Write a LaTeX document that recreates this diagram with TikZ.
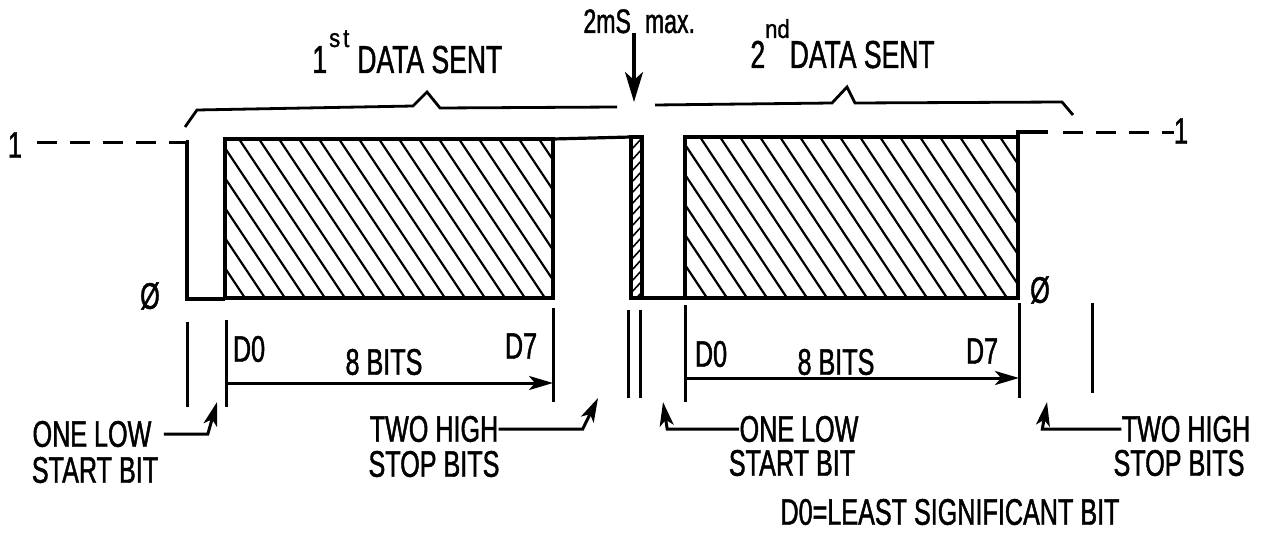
\documentclass[tikz,border=0pt]{standalone}
\usepackage{fontspec}
\newfontfamily\handfont{Liberation Sans}[FakeStretch=0.68, FakeBold=1.2]
\newfontfamily\supfont{Liberation Sans}[FakeStretch=0.85, FakeBold=1.2]
\usetikzlibrary{arrows.meta}

\begin{document}
\begin{tikzpicture}[x=0.5pt, y=-0.5pt,
    sig/.style={line width=1.6pt, line join=miter},
    hatch/.style={line width=1.1pt},
    tick/.style={line width=1.5pt},
    lvl/.style={line width=1.5pt, dash pattern=on 10pt off 6.5pt},
    lbl/.style={font=\handfont\fontsize{18.5}{21}\selectfont, inner sep=0pt},
    ptr/.style={line width=1.5pt, -{Stealth[length=12pt,width=7pt,inset=3pt]}}]
    \useasboundingbox (0,0) rectangle (1261,540);

    % Hatched data bits
    \begin{scope}
        \clip (225,139) rectangle (553,298);
        \foreach \i in {0,...,22}
            \draw[hatch] ({119+\i*20},139) -- ++(106,159);
    \end{scope}
    \begin{scope}
        \clip (685,137) rectangle (1018,298);
        \foreach \i in {0,...,22}
            \draw[hatch] ({580+\i*20},137) -- ++(107,161);
    \end{scope}
    \begin{scope}
        \clip (631,137) rectangle (642,298);
        \foreach \i in {0,...,14}
            \draw[hatch, line width=0.8pt] (631,{150+\i*11}) -- ++(11,-12);
    \end{scope}

    % Waveform
    \node[lbl] (one-l) at (15,145) {1};
    \draw[lvl] (37,142) -- (187,142);
    \draw[sig] (186,142) -- (187,142) -- (187,299) -- (225,299);
    \draw[sig] (225,139) rectangle (553,298);
    \draw[sig] (553,139) -- (631,137);
    \draw[sig] (631,137) rectangle (642,298);
    \draw[sig] (642,298) -- (685,298);
    \draw[sig] (685,137) rectangle (1018,298);
    \draw[sig] (1018,137) -- (1018,132) -- (1048,132);
    \draw[lvl] (1063,132) -- (1174,132);
    \node[lbl] (one-r) at (1181,131) {1};
    \node[lbl] (zero-l) at (150,296) {Ø};
    \node[lbl] (zero-r) at (1040,290) {Ø};

    % Braces and titles
    \draw[sig, line width=1.4pt] (185,127) -- (197,110) -- (413,106) -- (427,92) -- (440,108) -- (617,107);
    \draw[sig, line width=1.4pt] (655,105) -- (832,103) -- (847,87) -- (855,103) -- (1062,102) -- (1073,115);
    \node[lbl, font=\handfont\fontsize{19.5}{22}\selectfont, anchor=base west] (sent1) at (312,73)
        {1\hspace{1pt}\raisebox{13pt}{\supfont\fontsize{13}{15}\selectfont s\hspace{1.5pt}t}\hspace{4pt}DATA SENT};
    \node[lbl, font=\handfont\fontsize{19.5}{22}\selectfont, anchor=base west] (sent2) at (750,68)
        {2\raisebox{15pt}{\supfont\fontsize{13}{15}\selectfont nd}DATA SENT};

    % Gap between the two words
    \node[lbl, font=\handfont\fontsize{17}{19}\selectfont, anchor=base west] (gap) at (583,33) {2mS\hspace{7pt}max.};
    \coordinate (gaptip) at (634,102);
    \draw[line width=1.6pt, -{Stealth[length=15pt,width=9pt,inset=4pt]}] (gap.base -| gaptip) -- (gaptip);

    % Bit markers
    \foreach \x/\a/\b in {187/322/407, 226/320/407, 553/308/402, 628/310/398,
                          640/310/398, 685/305/402, 1019/303/398, 1092/303/393}
        \draw[tick] (\x,\a) -- (\x,\b);
    \node[lbl] (d0a) at (249,349) {D0};
    \node[lbl] (bitsa) at (384,362) {8 BITS};
    \node[lbl] (d7a) at (521,346) {D7};
    \draw[ptr] (226,383) -- (553,383);
    \node[lbl] (d0b) at (711,354) {D0};
    \node[lbl] (bitsb) at (836,362) {8 BITS};
    \node[lbl] (d7b) at (982,351) {D7};
    \draw[ptr] (685,378) -- (1019,378);

    % Start and stop bits
    \node[lbl] (low1) at (92,434) {ONE LOW};
    \node[lbl] (start1) at (95,470) {START BIT};
    \coordinate (low1tip) at (217,402);
    \draw[ptr] ([xshift=6pt]low1.east) -- ++(44,0) -- (low1tip);

    \node[lbl] (high1) at (434,429) {TWO HIGH};
    \node[lbl] (stop1) at (434,464) {STOP BITS};
    \coordinate (high1tip) at (598,398);
    \draw[ptr] (high1.east) -- ++(84,0) -- (high1tip);

    \node[lbl] (low2) at (799,429) {ONE LOW};
    \node[lbl] (start2) at (792,463) {START BIT};
    \coordinate (low2tip) at (663,402);
    \draw[ptr] (low2.west) -- ++(-72,0) -- (low2tip);

    \node[lbl] (high2) at (1186,429) {TWO HIGH};
    \node[lbl] (stop2) at (1179,463) {STOP BITS};
    \coordinate (high2tip) at (1047,402);
    \draw[ptr] (high2.west) -- ++(-79,0) -- (high2tip);

    \node[lbl] (lsb) at (950,512) {D0=LEAST SIGNIFICANT BIT};
\end{tikzpicture}
\end{document}
